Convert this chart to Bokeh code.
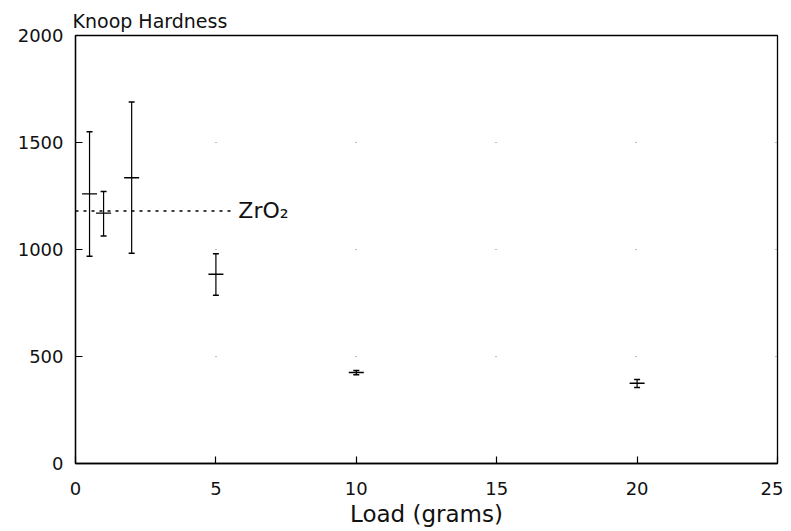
from bokeh.plotting import figure
from bokeh.models import ColumnDataSource, Whisker, TeeHead, FixedTicker, Range1d
from bokeh.core.properties import value
from bokeh.embed import file_html
from bokeh.resources import INLINE

# ---- data ----
load = [0.5, 1, 2, 5, 10, 20]                  # grams
hardness = [1260, 1170, 1335, 884, 425, 375]   # Knoop hardness
err_low = [968, 1063, 983, 786, 415, 355]
err_high = [1550, 1271, 1689, 980, 435, 393]

zro2_value = 1180
zro2_x = [0, 5.6]
zro2_y = [zro2_value, zro2_value]
zro2_label = "ZrO\u2082"

x_ticks = [0, 5, 10, 15, 20, 25]
y_ticks = [0, 500, 1000, 1500, 2000]
grid_levels = [500, 1000, 1500]

FONT = "DejaVu Sans"

src = ColumnDataSource(dict(load=load, hardness=hardness, lower=err_low, upper=err_high))

p = figure(frame_width=702, frame_height=428,
           x_range=Range1d(0, 25), y_range=Range1d(0, 2000),
           output_backend="svg", toolbar_location=None,
           title="Knoop Hardness",
           min_border_left=75, min_border_top=35, min_border_right=6, min_border_bottom=60,
           background_fill_color="white", border_fill_color="white")

p.title.text_font = FONT
p.title.text_font_size = "19px"
p.title.text_font_style = "normal"
p.title.text_color = "#111111"
p.title.align = "left"
p.title.offset = -3
p.title.standoff = 7

p.outline_line_color = "black"
p.outline_line_width = 1.3

# sparse dotted horizontal grid (remnant dots in reference)
p.xgrid.grid_line_color = None
p.ygrid.ticker = FixedTicker(ticks=grid_levels)
p.ygrid.grid_line_color = "#777777"
p.ygrid.grid_line_dash = "1 139"
p.ygrid.grid_line_width = 1.2

for ax in (p.xaxis, p.yaxis):
    ax.axis_line_color = "black"
    ax.axis_line_width = 1.3
    ax.major_tick_in = 7
    ax.major_tick_out = 0
    ax.minor_tick_line_color = None
    ax.major_tick_line_color = "black"
    ax.major_tick_line_width = 1.2
    ax.major_label_text_font = FONT
    ax.major_label_text_font_size = "18px"
    ax.major_label_text_color = "#111111"

p.xaxis.ticker = FixedTicker(ticks=x_ticks)
p.yaxis.ticker = FixedTicker(ticks=y_ticks)
p.xaxis.major_label_standoff = 18
p.yaxis.major_label_standoff = 12

p.xaxis.axis_label = "Load (grams)"
p.xaxis.axis_label_text_font = FONT
p.xaxis.axis_label_text_font_size = "23px"
p.xaxis.axis_label_text_font_style = "normal"
p.xaxis.axis_label_text_color = "#111111"
p.xaxis.axis_label_standoff = 3

# error bars
wh = Whisker(source=src, base="load", upper="upper", lower="lower", dimension="height",
             line_color="black", line_width=1.2,
             upper_head=TeeHead(size=6, line_color="black", line_width=1.5),
             lower_head=TeeHead(size=6, line_color="black", line_width=1.5))
p.add_layout(wh)
p.scatter(x="load", y="hardness", source=src, marker="dash", size=15,
          line_color="black", line_width=1.4)

# ZrO2 reference line and label
p.line(x=zro2_x, y=zro2_y, line_color="black", line_width=1.3, line_dash="3 5")
p.text(x=[zro2_x[1] + 0.2], y=[zro2_value], text=[zro2_label],
       text_font=value(FONT), text_font_size="22px", text_baseline="middle",
       text_align="left", text_color="#111111")

open("out.html", "w").write(file_html(p, INLINE))
